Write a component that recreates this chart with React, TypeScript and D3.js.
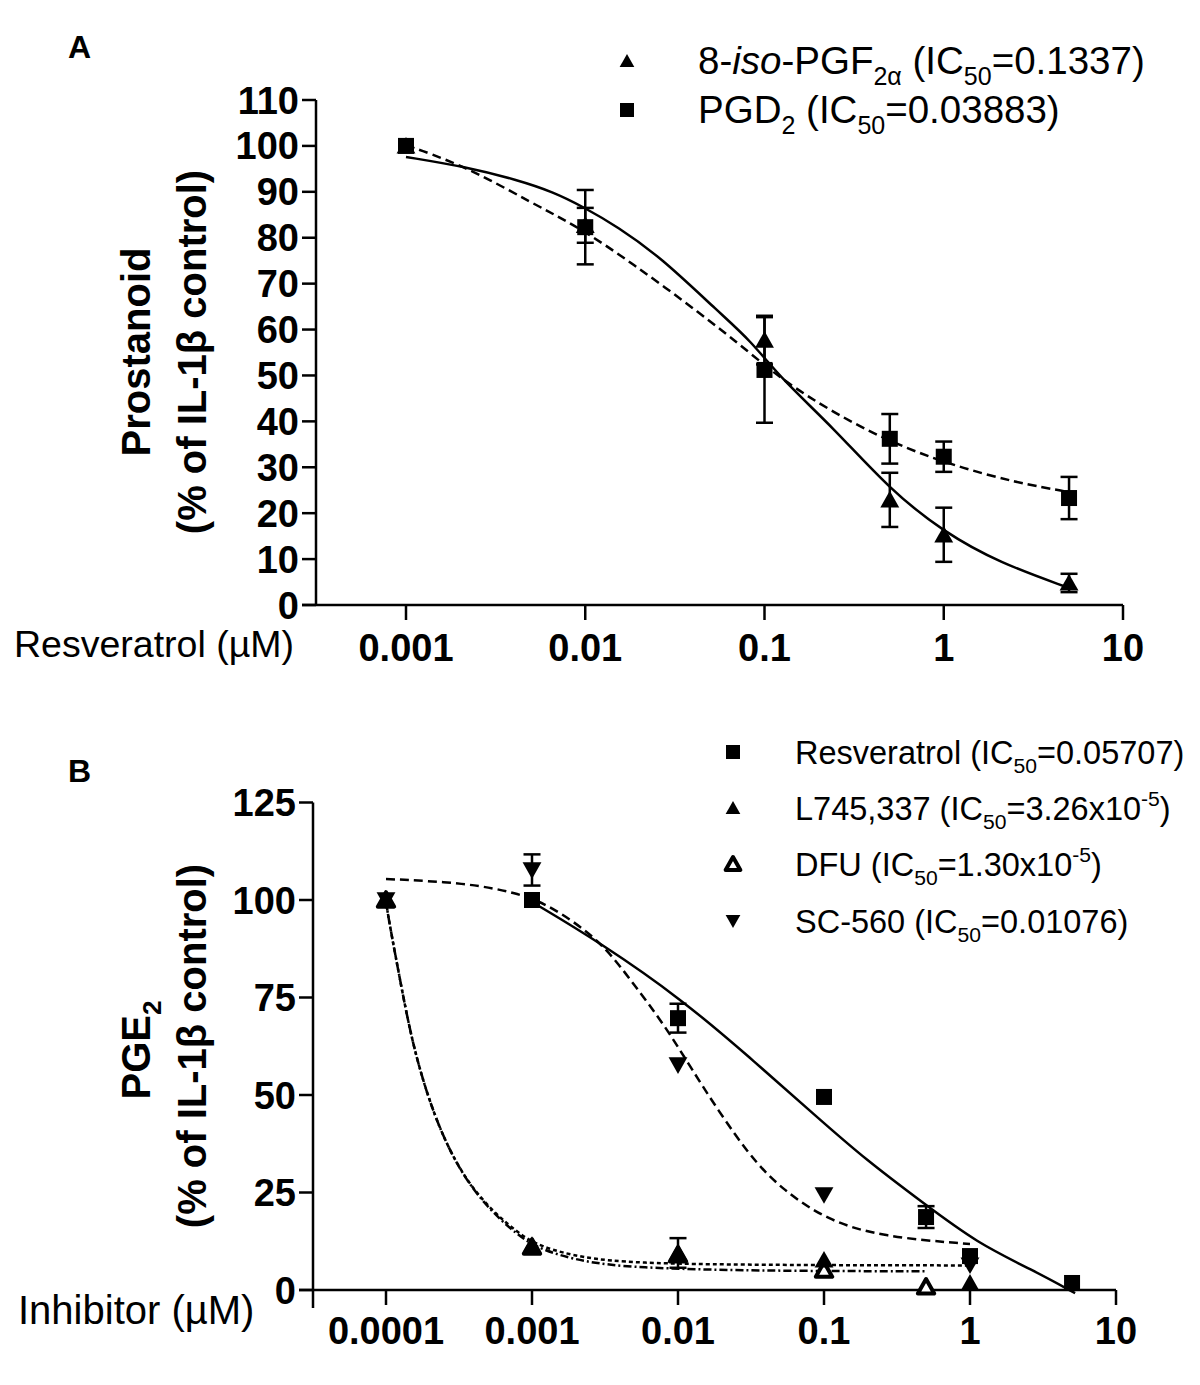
import * as d3 from "d3";

// ---- Panel A data (resveratrol vs prostanoids) ----
const concA = [0.001, 0.01, 0.1, 0.5, 1, 5];
const isoMean = [100, 82.7, 57.7, 22.9, 15.3, 4.8];
const isoErr = [0, 3.8, 5.3, 5.9, 5.9, 2.0];
const pgdMean = [100, 82.3, 51.2, 36.2, 32.3, 23.3];
const pgdErr = [0, 8.1, 11.5, 5.4, 3.3, 4.6];

// fitted curves: [log10(conc), value]
const isoFit: [number, number][] = [
  [-3, 97.6], [-2.66, 95.4], [-2.38, 92.6], [-2.18, 90], [-2.01, 86.7],
  [-1.82, 82.4], [-1.58, 75.8], [-1.25, 63.6], [-1.08, 57.7], [-0.9, 49],
  [-0.62, 38.8], [-0.3, 25.1], [0, 15.9], [0.31, 9.2], [0.7, 3.7],
];
const pgdFit: [number, number][] = [
  [-3, 100], [-2.95, 99.6], [-2.63, 94.8], [-2.3, 87.6], [-2.04, 82.4],
  [-1.74, 74.5], [-1.36, 63.6], [-1.08, 54.9], [-0.9, 49], [-0.62, 42],
  [-0.3, 35.5], [0.04, 30.5], [0.41, 26.6], [0.7, 24.6],
];

const yTicksA = [0, 10, 20, 30, 40, 50, 60, 70, 80, 90, 100, 110];
const xTicksA = [0.001, 0.01, 0.1, 1, 10];
const xLabelsA = ["0.001", "0.01", "0.1", "1", "10"];

// ---- Panel B data (inhibitors vs PGE2) ----
const concRes = [0.001, 0.01, 0.1, 0.5, 1, 5];
const resMean = [100, 69.7, 49.5, 18.7, 8.7, 1.8];
const resErr = [0, 3.7, 0, 2.8, 0, 0];
const concL745 = [0.0001, 0.001, 0.01, 0.1, 1];
const l745Mean = [100, 11.5, 9.5, 7.7, 1.8];
const l745Err = [0, 0, 3.8, 0, 0];
const concDfu = [0.0001, 0.001, 0.01, 0.1, 0.5];
const dfuMean = [100, 11, 9, 5.1, 0.8];
const concSc = [0.0001, 0.001, 0.01, 0.1, 1];
const scMean = [100, 107.7, 57.7, 24.4, 6.4];
const scErr = [0, 4, 0, 0, 0];

const resFit: [number, number][] = [
  [-3, 99.5], [-2.53, 89], [-1.97, 74.4], [-1.51, 59.7], [-1.05, 44.4],
  [-0.71, 33.3], [-0.32, 22.3], [0.05, 12], [0.43, 5.1], [0.72, -0.8],
];
const scFit: [number, number][] = [
  [-4, 105.4], [-3.45, 104.4], [-3.1, 101.8], [-2.88, 98.7], [-2.53, 89.7],
  [-2.31, 78.7], [-2.08, 67.4], [-1.85, 53.1], [-1.51, 34.1], [-1.28, 25.6],
  [-0.98, 17.9], [-0.6, 13.6], [0, 11.8],
];
const l745Fit: [number, number][] = [
  [-4, 100], [-3.99, 96.7], [-3.9, 78.7], [-3.81, 61.5], [-3.67, 44.4],
  [-3.51, 31.5], [-3.33, 22.3], [-3.1, 14.6], [-2.94, 11], [-2.65, 8.2],
  [-2.3, 6.9], [-1.5, 6.4], [0, 6.3],
];
const dfuFit: [number, number][] = [
  [-4, 100], [-3.99, 96.7], [-3.9, 78.7], [-3.81, 61.5], [-3.67, 44.4],
  [-3.51, 31.5], [-3.33, 22], [-3.1, 14], [-2.94, 10.3], [-2.65, 7.2],
  [-2.3, 5.7], [-1.5, 4.9], [-0.3, 4.8],
];

const yTicksB = [0, 25, 50, 75, 100, 125];
const xTicksB = [0.0001, 0.001, 0.01, 0.1, 1, 10];
const xLabelsB = ["0.0001", "0.001", "0.01", "0.1", "1", "10"];

const FONT = "'Liberation Sans', Arial, Helvetica, sans-serif";
const LW = 2.5;

type Seg = { t: string; k?: "sub" | "sup" | "i" };
type Shape = "square" | "up" | "down" | "open";

function RichText({ x, y, size, segs, weight = "normal", anchor = "start", transform }: {
  x: number; y: number; size: number; segs: Seg[]; weight?: string; anchor?: string; transform?: string;
}) {
  let cur = 0;
  return (
    <text x={x} y={y} fontSize={size} fontFamily={FONT} fontWeight={weight}
      textAnchor={anchor} transform={transform} fill="#000">
      {segs.map((s, i) => {
        const off = s.k === "sub" ? size * 0.28 : s.k === "sup" ? -size * 0.42 : 0;
        const dy = off - cur;
        cur = off;
        return (
          <tspan key={i} dy={dy}
            fontSize={s.k === "sub" || s.k === "sup" ? size * 0.65 : size}
            fontStyle={s.k === "i" ? "italic" : "normal"}>
            {s.t}
          </tspan>
        );
      })}
    </text>
  );
}

function Marker({ shape, x, y, s }: { shape: Shape; x: number; y: number; s: number }) {
  const h = s / 2;
  if (shape === "square")
    return <rect x={x - h} y={y - h} width={s} height={s} fill="#000" />;
  if (shape === "up")
    return <path d={`M${x},${y - h}L${x + h * 1.05},${y + h * 0.85}L${x - h * 1.05},${y + h * 0.85}Z`} fill="#000" />;
  if (shape === "down")
    return <path d={`M${x},${y + h}L${x + h * 1.05},${y - h * 0.85}L${x - h * 1.05},${y - h * 0.85}Z`} fill="#000" />;
  const k = h * 0.78;
  return (
    <path d={`M${x},${y - k}L${x + k * 1.05},${y + k * 0.85}L${x - k * 1.05},${y + k * 0.85}Z`}
      fill="#fff" stroke="#000" strokeWidth={4} strokeLinejoin="round" />
  );
}

function Series({ conc, mean, err, shape, xs, ys, size }: {
  conc: number[]; mean: number[]; err?: number[]; shape: Shape; size: number;
  xs: d3.ScaleLogarithmic<number, number>; ys: d3.ScaleLinear<number, number>;
}) {
  return (
    <g>
      {err && conc.map((c, i) => err[i] > 0 ? (
        <g key={"e" + i} stroke="#000" strokeWidth={LW}>
          <line x1={xs(c)} x2={xs(c)} y1={ys(mean[i] - err[i])} y2={ys(mean[i] + err[i])} />
          <line x1={xs(c) - 8.5} x2={xs(c) + 8.5} y1={ys(mean[i] - err[i])} y2={ys(mean[i] - err[i])} />
          <line x1={xs(c) - 8.5} x2={xs(c) + 8.5} y1={ys(mean[i] + err[i])} y2={ys(mean[i] + err[i])} />
        </g>
      ) : null)}
      {conc.map((c, i) => <Marker key={i} shape={shape} x={xs(c)} y={ys(mean[i])} s={size} />)}
    </g>
  );
}

function FitLine({ pts, xs, ys, dash }: {
  pts: [number, number][]; xs: d3.ScaleLogarithmic<number, number>;
  ys: d3.ScaleLinear<number, number>; dash?: string;
}) {
  // basis spline smooths the hand-read curve points
  const line = d3.line<[number, number]>()
    .x((d) => xs(Math.pow(10, d[0])))
    .y((d) => ys(d[1]))
    .curve(d3.curveBasis);
  return <path d={line(pts) ?? ""} fill="none" stroke="#000" strokeWidth={LW} strokeDasharray={dash} />;
}

export default function App() {
  // Panel A scales
  const xA = d3.scaleLog().domain([0.001, 10]).range([406, 1123]);
  const yA = d3.scaleLinear().domain([0, 110]).range([605, 100]);
  const axA = 316;
  // Panel B scales
  const xB = d3.scaleLog().domain([0.0001, 10]).range([386, 1116]);
  const yB = d3.scaleLinear().domain([0, 125]).range([1290, 802.5]);
  const axB = 313;

  const tickFont = 38;
  const titleFont = 40;

  return (
    <svg width={1200} height={1385} style={{ position: "absolute", left: 0, top: 0, background: "#fff" }}>
      <rect width={1200} height={1385} fill="#fff" />

      {/* ===== Panel A ===== */}
      <text x={68} y={58} fontSize={32} fontWeight="bold" fontFamily={FONT}>A</text>

      {/* axes */}
      <g stroke="#000" strokeWidth={LW}>
        <line x1={axA} x2={axA} y1={yA(110)} y2={yA(0)} />
        <line x1={axA - 14} x2={xA(10)} y1={yA(0)} y2={yA(0)} />
        {yTicksA.map((t) => <line key={t} x1={axA - 14} x2={axA} y1={yA(t)} y2={yA(t)} />)}
        {xTicksA.map((t) => <line key={t} x1={xA(t)} x2={xA(t)} y1={yA(0)} y2={yA(0) + 15} />)}
      </g>
      {yTicksA.map((t) => (
        <text key={t} x={axA - 17} y={yA(t) + 13.5} textAnchor="end" fontSize={tickFont}
          fontWeight="bold" fontFamily={FONT}>{t}</text>
      ))}
      {xTicksA.map((t, i) => (
        <text key={t} x={xA(t)} y={661} textAnchor="middle" fontSize={tickFont}
          fontWeight="bold" fontFamily={FONT}>{xLabelsA[i]}</text>
      ))}
      <text x={14} y={657} fontSize={37.5} fontFamily={FONT}>Resveratrol (µM)</text>

      <text transform="translate(150,352) rotate(-90)" textAnchor="middle" fontSize={titleFont}
        fontWeight="bold" fontFamily={FONT}>Prostanoid</text>
      <text transform="translate(206,352) rotate(-90)" textAnchor="middle" fontSize={titleFont}
        fontWeight="bold" fontFamily={FONT}>(% of IL-1β control)</text>

      {/* fits */}
      <FitLine pts={isoFit} xs={xA} ys={yA} />
      <FitLine pts={pgdFit} xs={xA} ys={yA} dash="9,5" />
      <Series conc={concA} mean={isoMean} err={isoErr} shape="up" size={18} xs={xA} ys={yA} />
      <Series conc={concA} mean={pgdMean} err={pgdErr} shape="square" size={16} xs={xA} ys={yA} />

      {/* legend A */}
      <Marker shape="up" x={627} y={61} s={14} />
      <Marker shape="square" x={627} y={110} s={14} />
      <RichText x={698} y={74} size={38.5} segs={[
        { t: "8-" }, { t: "iso", k: "i" }, { t: "-PGF" }, { t: "2α", k: "sub" },
        { t: " (IC" }, { t: "50", k: "sub" }, { t: "=0.1337)" },
      ]} />
      <RichText x={698} y={123} size={38.5} segs={[
        { t: "PGD" }, { t: "2", k: "sub" }, { t: " (IC" }, { t: "50", k: "sub" }, { t: "=0.03883)" },
      ]} />

      {/* ===== Panel B ===== */}
      <text x={68} y={782} fontSize={32} fontWeight="bold" fontFamily={FONT}>B</text>

      <g stroke="#000" strokeWidth={LW}>
        <line x1={axB} x2={axB} y1={yB(125)} y2={yB(0) + 18} />
        <line x1={axB - 14} x2={xB(10)} y1={yB(0)} y2={yB(0)} />
        {yTicksB.map((t) => <line key={t} x1={axB - 14} x2={axB} y1={yB(t)} y2={yB(t)} />)}
        {xTicksB.map((t) => <line key={t} x1={xB(t)} x2={xB(t)} y1={yB(0)} y2={yB(0) + 15} />)}
      </g>
      {yTicksB.map((t) => (
        <text key={t} x={axB - 17} y={yB(t) + 13.5} textAnchor="end" fontSize={tickFont}
          fontWeight="bold" fontFamily={FONT}>{t}</text>
      ))}
      {xTicksB.map((t, i) => (
        <text key={t} x={xB(t)} y={1344} textAnchor="middle" fontSize={tickFont}
          fontWeight="bold" fontFamily={FONT}>{xLabelsB[i]}</text>
      ))}
      <text x={18} y={1324} fontSize={40} fontFamily={FONT}>Inhibitor (µM)</text>

      <RichText x={0} y={0} size={titleFont} weight="bold" anchor="middle"
        transform="translate(150,1050) rotate(-90)"
        segs={[{ t: "PGE" }, { t: "2", k: "sub" }]} />
      <text transform="translate(206,1046) rotate(-90)" textAnchor="middle" fontSize={titleFont}
        fontWeight="bold" fontFamily={FONT}>(% of IL-1β control)</text>

      <FitLine pts={resFit} xs={xB} ys={yB} />
      <FitLine pts={scFit} xs={xB} ys={yB} dash="9,5" />
      <FitLine pts={l745Fit} xs={xB} ys={yB} dash="4,3" />
      <FitLine pts={dfuFit} xs={xB} ys={yB} dash="8,3,2,3" />

      <Series conc={concDfu} mean={dfuMean} shape="open" size={20} xs={xB} ys={yB} />
      <Series conc={concSc} mean={scMean} err={scErr} shape="down" size={18} xs={xB} ys={yB} />
      <Series conc={concL745} mean={l745Mean} err={l745Err} shape="up" size={18} xs={xB} ys={yB} />
      <Series conc={concRes} mean={resMean} err={resErr} shape="square" size={16} xs={xB} ys={yB} />

      {/* legend B */}
      <Marker shape="square" x={733} y={752} s={14} />
      <Marker shape="up" x={733} y={808} s={14} />
      <Marker shape="open" x={733} y={864} s={18} />
      <Marker shape="down" x={733} y={921} s={14} />
      <RichText x={795} y={764} size={32.5} segs={[
        { t: "Resveratrol (IC" }, { t: "50", k: "sub" }, { t: "=0.05707)" },
      ]} />
      <RichText x={795} y={820} size={32.5} segs={[
        { t: "L745,337 (IC" }, { t: "50", k: "sub" }, { t: "=3.26x10" }, { t: "-5", k: "sup" }, { t: ")" },
      ]} />
      <RichText x={795} y={876} size={32.5} segs={[
        { t: "DFU (IC" }, { t: "50", k: "sub" }, { t: "=1.30x10" }, { t: "-5", k: "sup" }, { t: ")" },
      ]} />
      <RichText x={795} y={933} size={32.5} segs={[
        { t: "SC-560 (IC" }, { t: "50", k: "sub" }, { t: "=0.01076)" },
      ]} />
    </svg>
  );
}
